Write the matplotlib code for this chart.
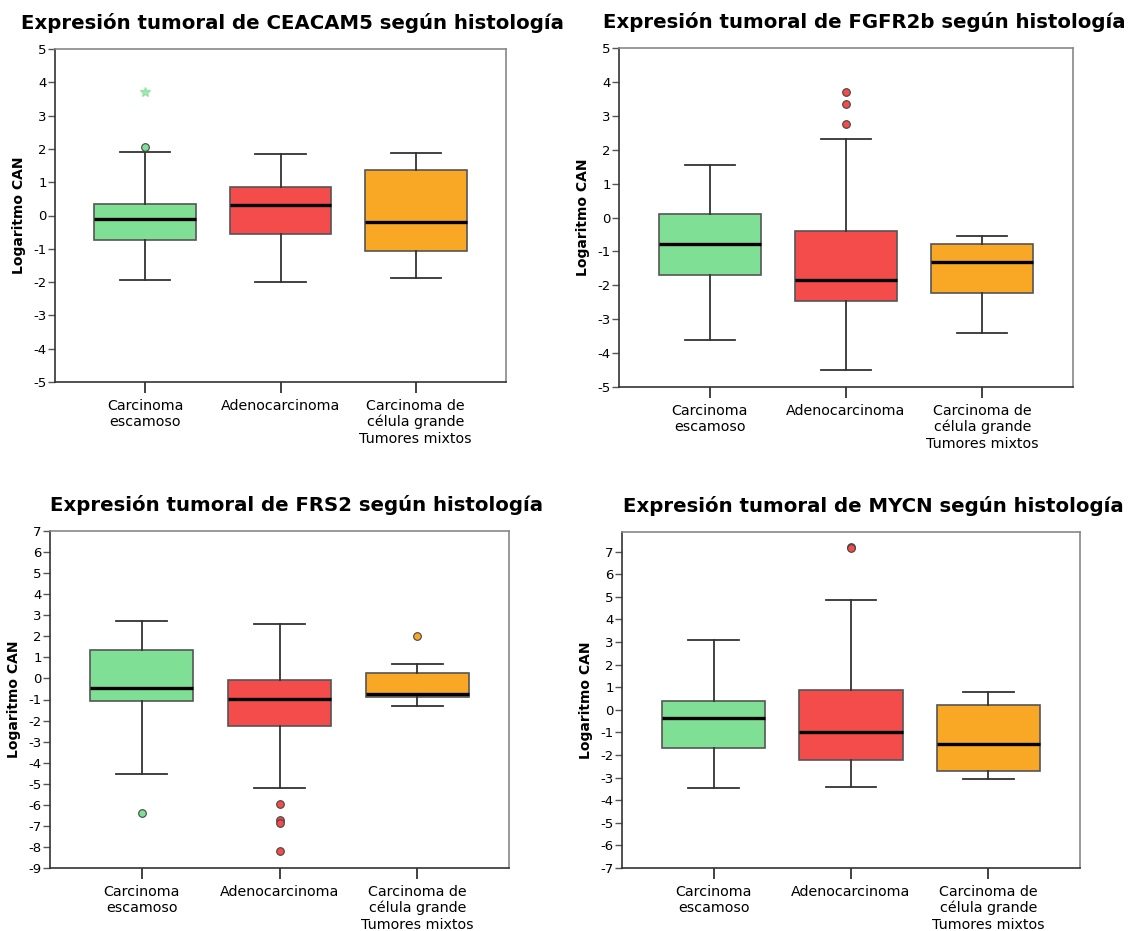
import matplotlib
matplotlib.use("Agg")
import matplotlib.pyplot as plt

categorias = ["Carcinoma\nescamoso", "Adenocarcinoma", "Carcinoma de\ncélula grande\nTumores mixtos"]
colores = ["#7fdf95", "#f44b4b", "#f8a825"]

# (whislo, q1, med, q3, whishi) por histologia
ceacam5 = [(-1.94, -0.74, -0.12, 0.35, 1.90),
           (-2.00, -0.57, 0.31, 0.85, 1.85),
           (-1.88, -1.07, -0.21, 1.38, 1.87)]
ceacam5_out = [[2.05], [], []]
ceacam5_ext = [[3.70], [], []]

fgfr2b = [(-3.60, -1.70, -0.77, 0.09, 1.55),
          (-4.50, -2.47, -1.83, -0.39, 2.32),
          (-3.42, -2.24, -1.30, -0.78, -0.54)]
fgfr2b_out = [[], [3.69, 3.35, 2.77], []]
fgfr2b_ext = [[], [], []]

frs2 = [(-4.53, -1.08, -0.46, 1.36, 2.72),
        (-5.21, -2.25, -0.98, -0.08, 2.58),
        (-1.33, -0.86, -0.74, 0.27, 0.67)]
frs2_out = [[-6.37], [-5.97, -6.73, -6.88, -8.18], [2.01]]
frs2_ext = [[], [], []]

mycn = [(-3.44, -1.71, -0.38, 0.41, 3.10),
        (-3.41, -2.21, -0.98, 0.89, 4.86),
        (-3.08, -2.70, -1.50, 0.21, 0.81)]
mycn_out = [[], [7.21, 7.15], []]
mycn_ext = [[], [], []]

paneles = [
    ("CEACAM5", ceacam5, ceacam5_out, ceacam5_ext, (-5, 5), range(-5, 6), [55, 49, 506, 382], 292),
    ("FGFR2b", fgfr2b, fgfr2b_out, fgfr2b_ext, (-5, 5), range(-5, 6), [619, 48, 1073, 387], 864),
    ("FRS2", frs2, frs2_out, frs2_ext, (-9, 7), range(-9, 8), [50, 531, 509, 868], 297),
    ("MYCN", mycn, mycn_out, mycn_ext, (-7, 7.87), range(-7, 8), [622, 532, 1080, 868], 873),
]

W, H = 1141, 931
fig = plt.figure(figsize=(W / 100, H / 100), dpi=100)
edge = "#555555"

for gen, datos, outs, exts, ylim, ticks, (x0, y0, x1, y1), xt in paneles:
    ax = fig.add_axes([x0 / W, 1 - y1 / H, (x1 - x0) / W, (y1 - y0) / H])
    stats = []
    for (lo, q1, med, q3, hi), fl in zip(datos, outs):
        stats.append(dict(whislo=lo, q1=q1, med=med, q3=q3, whishi=hi, fliers=fl))
    bp = ax.bxp(stats, positions=[1, 2, 3], widths=0.75, patch_artist=True,
                showfliers=True,
                boxprops=dict(edgecolor=edge, linewidth=1.2),
                medianprops=dict(color="black", linewidth=2.4),
                whiskerprops=dict(color="#333333", linewidth=1.3),
                capprops=dict(color="#333333", linewidth=1.3),
                capwidths=0.37)
    for patch, c in zip(bp["boxes"], colores):
        patch.set_facecolor(c)
    for fl, c in zip(bp["fliers"], colores):
        fl.set(marker="o", markerfacecolor=c, markeredgecolor="#444444",
               markersize=5.5, markeredgewidth=0.8, linestyle="none")
    for i, (ex, c) in enumerate(zip(exts, colores)):
        if ex:
            ax.plot([i + 1] * len(ex), ex, linestyle="none", marker="*",
                    color=c, markersize=7, alpha=0.7)

    ax.set_xlim(1 / 3, 11 / 3)
    ax.set_ylim(*ylim)
    ax.set_yticks(list(ticks))
    ax.set_yticklabels([str(t) for t in ticks], fontsize=9.5)
    ax.set_xticks([1, 2, 3])
    ax.set_xticklabels(categorias, fontsize=10.3, linespacing=1.2)
    ax.tick_params(axis="y", length=5, width=1, color=edge, pad=1)
    ax.tick_params(axis="x", length=8, width=1.3, color="#333333", pad=4)
    for s in ax.spines.values():
        s.set_color("#888888")
        s.set_linewidth(1.2)
    ax.spines["left"].set_color("#333333")
    ax.spines["bottom"].set_color("#333333")
    ax.set_ylabel("Logaritmo CAN", fontsize=10, fontweight="bold", labelpad=5)
    fig.text(xt / W, 1 - (y0 - 26) / H,
             "Expresión tumoral de " + gen + " según histología",
             fontsize=14.2, fontweight="bold", ha="center", va="center")

fig.savefig("out.png", dpi=100)
